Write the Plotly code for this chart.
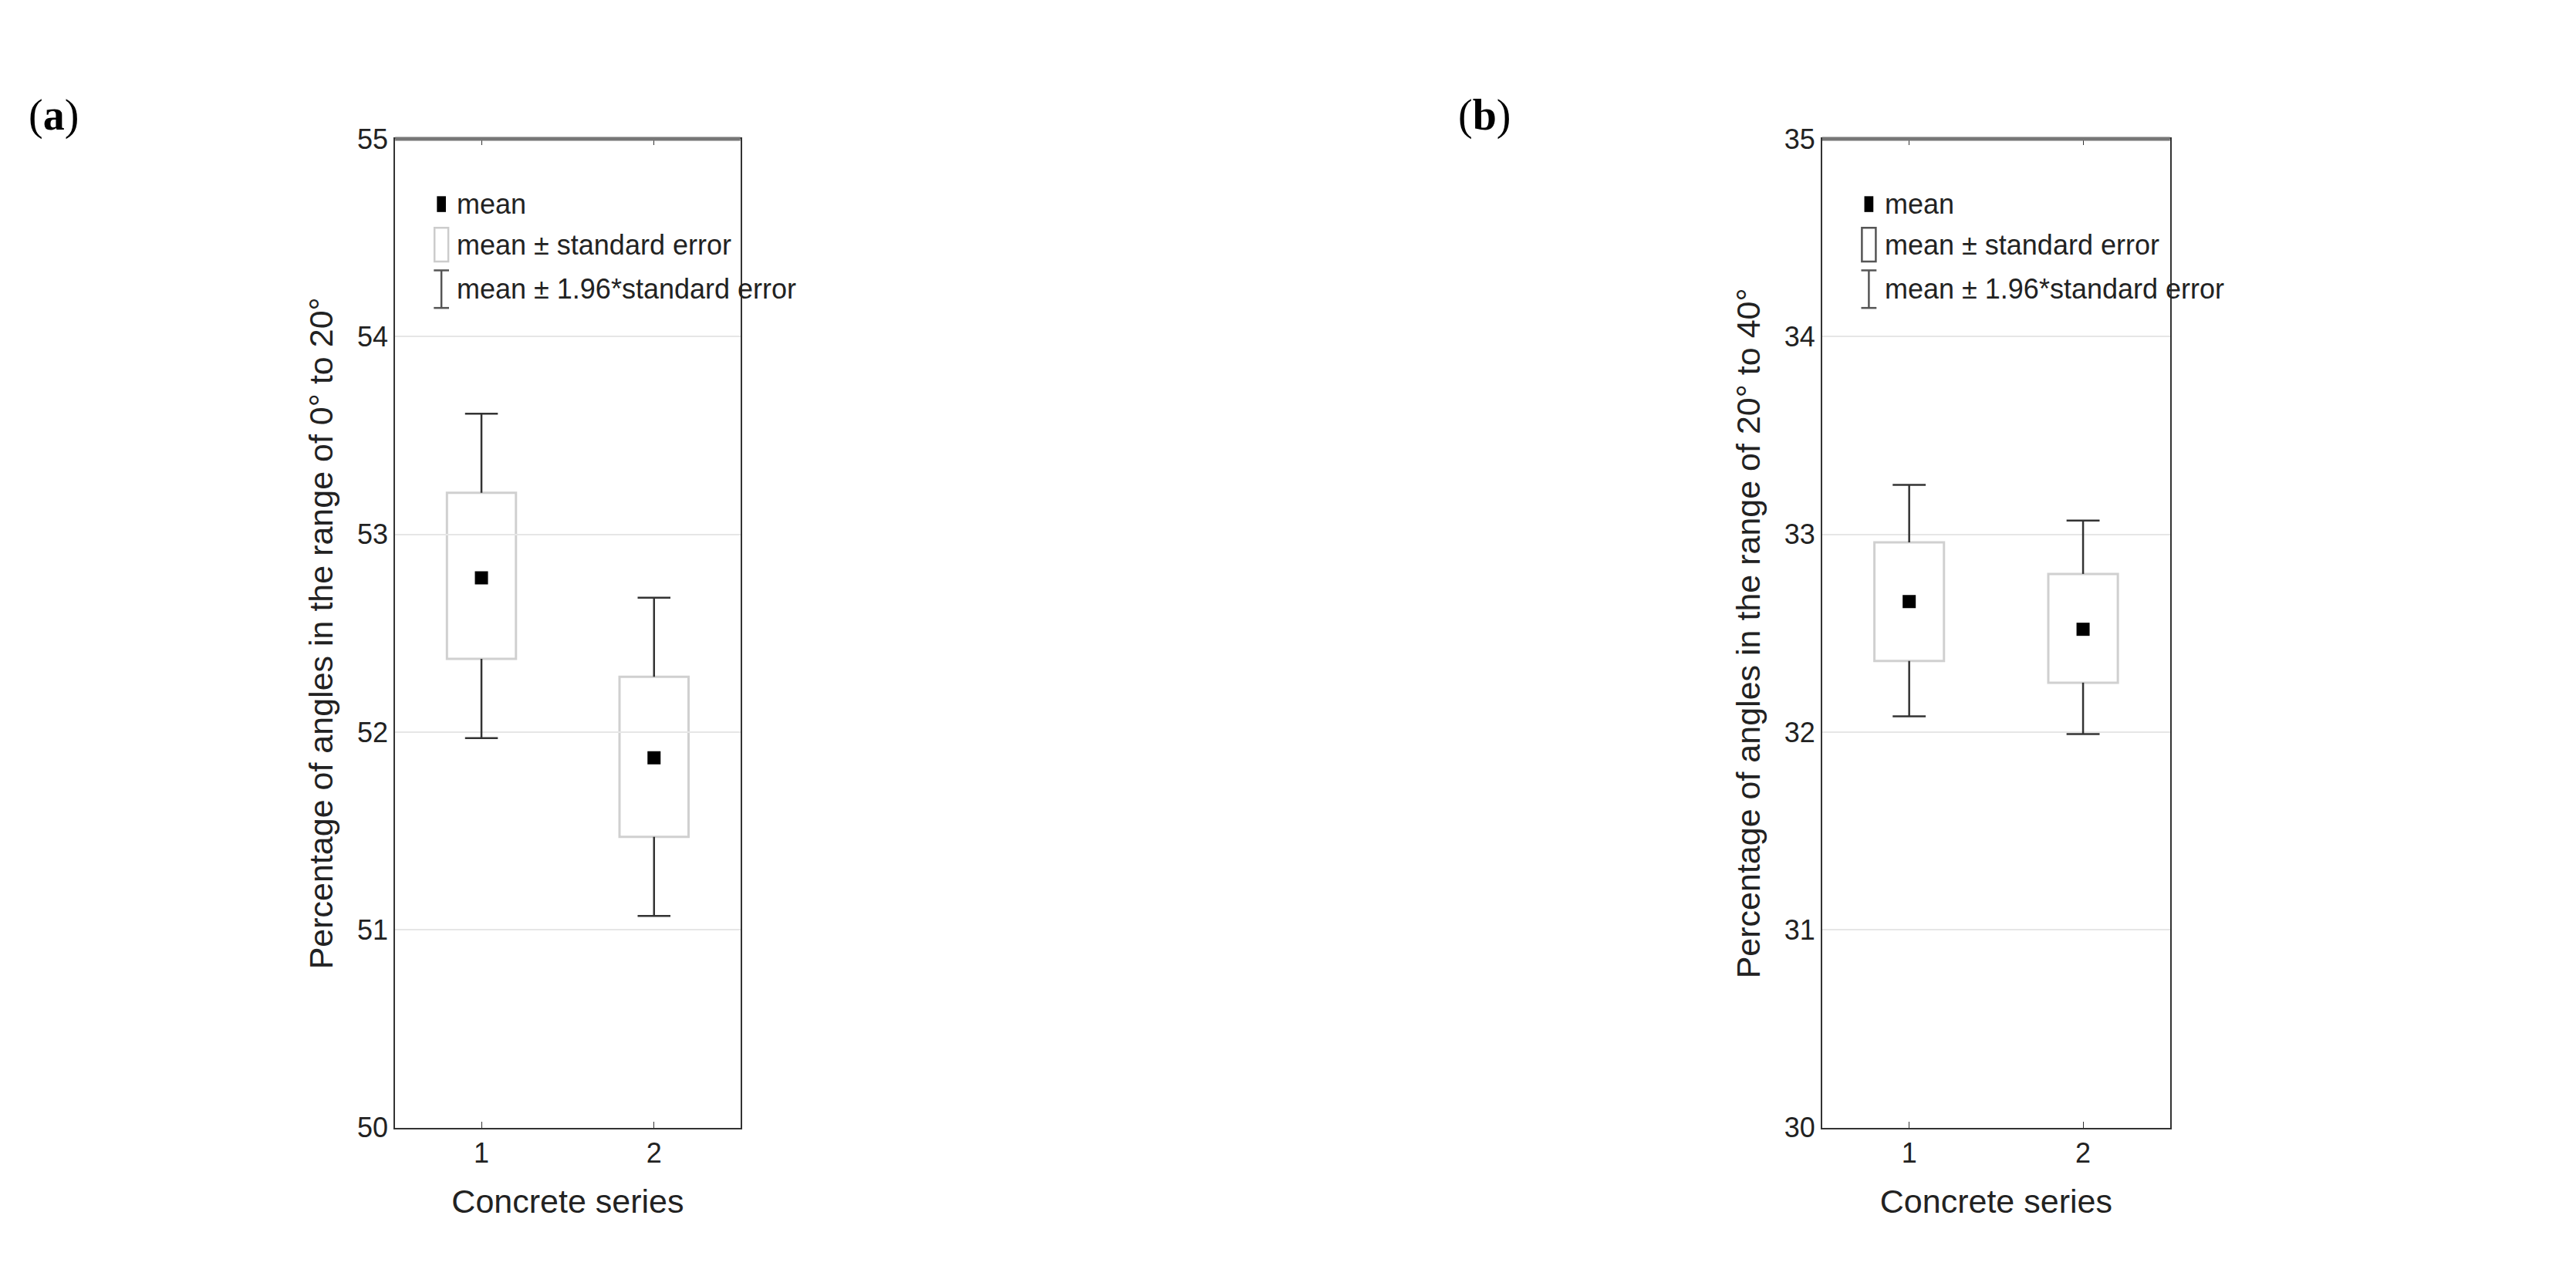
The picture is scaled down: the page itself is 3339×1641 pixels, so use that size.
import plotly.graph_objects as go
from plotly.subplots import make_subplots

series = [1, 2]
# panel (a): 0-20 degrees
a_mean = [52.78, 51.87]
a_se_low = [52.37, 51.47]
a_se_high = [53.21, 52.28]
a_ci_low = [51.97, 51.07]
a_ci_high = [53.61, 52.68]
# panel (b): 20-40 degrees
b_mean = [32.66, 32.52]
b_se_low = [32.36, 32.25]
b_se_high = [32.96, 32.80]
b_ci_low = [32.08, 31.99]
b_ci_high = [33.25, 33.07]

FONT = "Liberation Sans, Arial, sans-serif"
BOX_W = 0.4
CAP = 0.095

fig = make_subplots(rows=1, cols=2)
fig.update_layout(
    width=3339, height=1641, plot_bgcolor="white", paper_bgcolor="white",
    showlegend=False, margin=dict(l=0, r=0, t=0, b=0),
    font=dict(family=FONT, size=36, color="#222"),
)

panels = [
    (1, a_mean, a_se_low, a_se_high, a_ci_low, a_ci_high, [50, 55],
     "Percentage of angles in the range of 0° to 20°", [0.151, 0.285]),
    (2, b_mean, b_se_low, b_se_high, b_ci_low, b_ci_high, [30, 35],
     "Percentage of angles in the range of 20° to 40°", [0.705, 0.840]),
]

for col, mean, lo, hi, clo, chi, yr, ytitle, dom in panels:
    # whiskers (drawn outside the box) and caps
    wx, wy = [], []
    for s, l, h, cl, ch in zip(series, lo, hi, clo, chi):
        wx += [s, s, None, s, s, None, s - CAP, s + CAP, None, s - CAP, s + CAP, None]
        wy += [h, ch, None, l, cl, None, ch, ch, None, cl, cl, None]
    fig.add_trace(go.Scatter(x=wx, y=wy, mode="lines", line=dict(color="#333", width=2.5),
                             hoverinfo="skip"), row=1, col=col)
    # mean +- SE boxes
    for s, l, h in zip(series, lo, hi):
        fig.add_shape(type="rect", x0=s - BOX_W / 2, x1=s + BOX_W / 2, y0=l, y1=h,
                      fillcolor="white", line=dict(color="#d0d0d0", width=3),
                      layer="below", row=1, col=col)
    fig.add_trace(go.Scatter(x=series, y=mean, mode="markers",
                             marker=dict(symbol="square", size=17, color="black")),
                  row=1, col=col)

    xa = "xaxis" if col == 1 else "xaxis2"
    ya = "yaxis" if col == 1 else "yaxis2"
    fig.layout[xa].update(domain=dom, range=[0.5, 2.5], tickvals=series,
                          showgrid=False, showline=True, linecolor="#333", linewidth=2,
                          mirror="ticks", ticks="inside", ticklen=8, tickcolor="#333",
                          title=dict(text="Concrete series", standoff=28), zeroline=False)
    fig.layout[ya].update(domain=[0.104, 0.905], range=yr, dtick=1,
                          showgrid=True, gridcolor="#e6e6e6", gridwidth=2,
                          showline=True, linecolor="#333", linewidth=2, mirror=True,
                          ticks="", zeroline=False,
                          title=dict(text=ytitle, standoff=18))
    xref = "x domain" if col == 1 else "x2 domain"
    yref = "y domain" if col == 1 else "y2 domain"
    # thicker grey top frame
    fig.add_shape(type="line", xref=xref, yref=yref, x0=0, x1=1, y0=1, y1=1,
                  line=dict(color="#777", width=5))
    # legend
    lx = 0.134
    items = [0.934, 0.893, 0.848]
    fig.add_shape(type="rect", xref=xref, yref=yref, x0=lx - 0.013, x1=lx + 0.013,
                  y0=items[0] - 0.008, y1=items[0] + 0.008, fillcolor="black", line_width=0)
    fig.add_shape(type="rect", xref=xref, yref=yref, x0=lx - 0.02, x1=lx + 0.02,
                  y0=items[1] - 0.017, y1=items[1] + 0.017, fillcolor="white",
                  line=dict(color="#ccc" if col == 1 else "#555", width=2.5))
    fig.add_shape(type="line", xref=xref, yref=yref, x0=lx, x1=lx,
                  y0=items[2] - 0.019, y1=items[2] + 0.019, line=dict(color="#555", width=2.5))
    for yy in (items[2] - 0.019, items[2] + 0.019):
        fig.add_shape(type="line", xref=xref, yref=yref, x0=lx - 0.022, x1=lx + 0.022,
                      y0=yy, y1=yy, line=dict(color="#555", width=2.5))
    for yy, txt in zip(items, ["mean", "mean ± standard error", "mean ± 1.96*standard error"]):
        fig.add_annotation(xref=xref, yref=yref, x=0.175, y=yy, text=txt,
                           showarrow=False, xanchor="left", yanchor="middle",
                           font=dict(size=36, family=FONT, color="#222"))

fig.add_annotation(xref="paper", yref="paper", x=0.008, y=0.945, text="(<b>a</b>)",
                   showarrow=False, xanchor="left", font=dict(family="Liberation Serif", size=56, color="black"))
fig.add_annotation(xref="paper", yref="paper", x=0.563, y=0.945, text="(<b>b</b>)",
                   showarrow=False, xanchor="left", font=dict(family="Liberation Serif", size=56, color="black"))

fig.write_html("out.html")
